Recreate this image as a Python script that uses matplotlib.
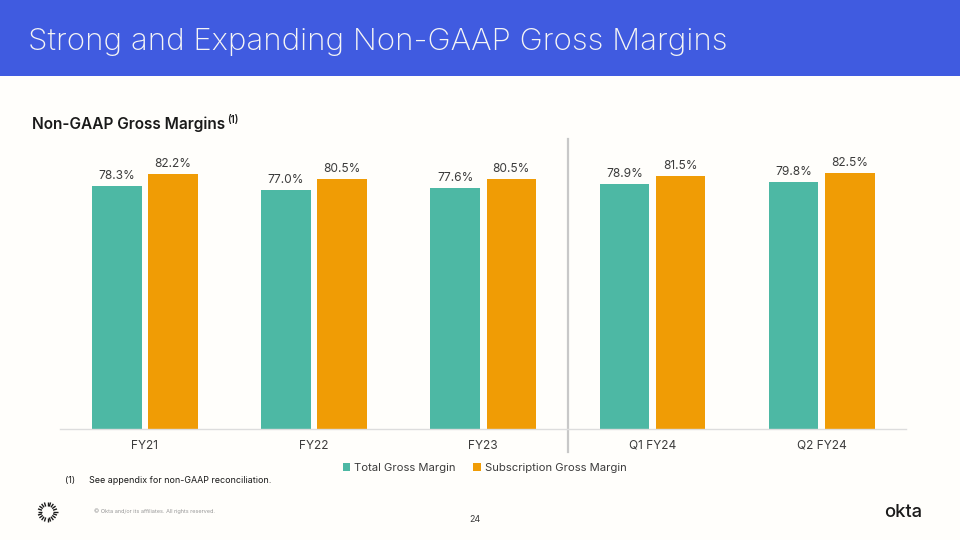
import numpy as np
import matplotlib
matplotlib.use("Agg")
import matplotlib.pyplot as plt
from matplotlib.patches import Rectangle

plt.rcParams['font.family'] = ['Inter', 'DejaVu Sans']

categories = ["FY21", "FY22", "FY23", "Q1 FY24", "Q2 FY24"]
total_margin = [78.3, 77.0, 77.6, 78.9, 79.8]
subscription_margin = [82.2, 80.5, 80.5, 81.5, 82.5]

BG = "#FFFEFB"
TEAL = "#4DB8A4"
ORANGE = "#F09C05"
DARK = "#1A1A1A"
W, H = 960, 540

fig = plt.figure(figsize=(9.6, 5.4), dpi=100, facecolor=BG)


def px(x, y):
    # pixel position from the top left -> figure fraction
    return x / W, 1 - y / H


# header band
fig.add_artist(Rectangle((0, 1 - 76 / H), 1, 76 / H, transform=fig.transFigure,
                         facecolor="#405BE0", edgecolor="none"))
fig.text(*px(28, 42.5), "Strong and Expanding Non-GAAP Gross Margins", color="#F5F5F5",
         fontsize=22.5, fontweight="light", va="center", ha="left")

fig.text(*px(32, 124), "Non-GAAP Gross Margins", color=DARK, fontsize=11.1,
         fontweight="semibold", va="center")
fig.text(*px(227, 120.5), "(1)", color=DARK, fontsize=7, fontweight="semibold", va="center")

# chart
ax = fig.add_axes([60.3 / W, 1 - 429 / H, 846 / W, 290 / H], facecolor="none")
x = np.arange(len(categories))
bw = 0.293
off = 0.166
ax.bar(x - off, total_margin, bw, color=TEAL, label="Total Gross Margin")
ax.bar(x + off, subscription_margin, bw, color=ORANGE, label="Subscription Gross Margin")
ax.set_xlim(-0.5, 4.5)
ax.set_ylim(0, 93.55)
for i in x:
    ax.text(i - off, total_margin[i] + 1.3, f"{total_margin[i]:.1f}%", ha="center", va="bottom",
            fontsize=8.6, color="#3C3C3C")
    ax.text(i + off, subscription_margin[i] + 1.3, f"{subscription_margin[i]:.1f}%", ha="center",
            va="bottom", fontsize=8.6, color="#3C3C3C")

ax.set_xticks(x, categories, fontsize=8.6, color="#3C3C3C", va="baseline")
ax.tick_params(axis="x", length=0, pad=14.3)
ax.set_yticks([])
for s in ["top", "left", "right"]:
    ax.spines[s].set_visible(False)
ax.spines["bottom"].set_color("#DDDDDD")
ax.spines["bottom"].set_linewidth(1)

# divider between years and quarters
ax.axvline(2.5, ymin=-0.079, ymax=1, color="#C8C8C8", lw=1.6, clip_on=False)

fig.legend(*ax.get_legend_handles_labels(), loc="center", bbox_to_anchor=px(484.5, 468), ncol=2,
           frameon=False, fontsize=8.1, handlelength=0.7, handleheight=0.7, handletextpad=0.35,
           columnspacing=1.5, labelcolor="#3C3C3C")

# footer
fig.text(*px(65, 480.5), "(1)", fontsize=6.45, color=DARK, va="center")
fig.text(*px(89, 480.5), "See appendix for non-GAAP reconciliation.", fontsize=6.45, color=DARK, va="center")
fig.text(*px(94, 511), "© Okta and/or its affiliates. All rights reserved.", fontsize=4.0,
         color="#9A9A9A", va="center")
fig.text(*px(475, 520), "24", fontsize=6.4, color="#3C3C3C", va="center", ha="center")
fig.text(*px(903, 512.5), "okta", fontsize=13.2, color=DARK, fontweight="medium", va="center", ha="center")

# sunburst logo
logo = fig.add_axes([35.5 / W, 1 - 524 / H, 24 / W, 24 / H])
logo.set_xlim(-12, 12)
logo.set_ylim(-12, 12)
logo.axis("off")
for a in np.linspace(0, 2 * np.pi, 20, endpoint=False):
    logo.plot([5.8 * np.cos(a), 10 * np.cos(a)], [5.8 * np.sin(a), 10 * np.sin(a)],
              color=DARK, lw=1.0, solid_capstyle="butt")

fig.savefig("out.png", dpi=100, facecolor=BG)
